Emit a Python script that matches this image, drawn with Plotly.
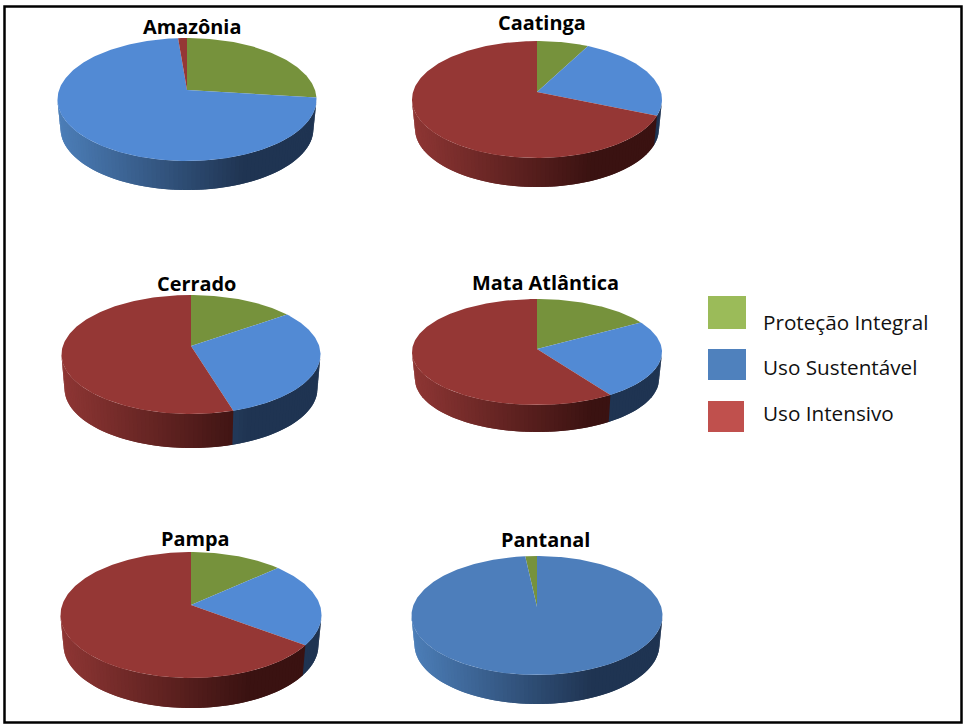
import numpy as np
import plotly.graph_objects as go

BIOMES = ["Amazônia", "Caatinga", "Cerrado", "Mata Atlântica", "Pampa", "Pantanal"]
SERIES = ["Proteção Integral", "Uso Sustentável", "Uso Intensivo"]
PROTECAO = [24.5, 6.7, 13.3, 15.6, 11.6, 1.5]
SUSTENTAVEL = [74.4, 22.8, 31.4, 24.4, 21.4, 98.5]
INTENSIVO = [1.1, 70.5, 55.3, 60.0, 67.0, 0.0]

# pie geometry in page pixels: centre x, rim top, rim bottom, half width, apex y, wall depth, rotation (deg)
GEOM = [
    (187, 38, 161, 129.5, 90, 29, 0),
    (537, 41, 158, 125, 92, 29, 0),
    (191, 295, 414, 129.5, 346, 34, 0),
    (537, 299, 405, 125, 349, 27, 0),
    (191, 552, 678, 130.5, 605, 30, 0),
    (537, 556, 675, 125.5, 607, 29, -5.4),
]
TITLE_POS = [(192, 26), (542, 22), (196, 283), (545, 282), (195, 538), (545, 539)]

TOP = ["#76923c", "#528ad4", "#953735"]
TOP_PANTANAL_BLUE = "#4d7ebb"
SIDE_LIGHT = [(118, 146, 60), (76, 126, 184), (142, 54, 52)]
SIDE_DARK = [(52, 66, 26), (31, 52, 82), (58, 18, 17)]
LEGEND_SWATCH = ["#9bbb59", "#4f81bd", "#c0504d"]
LEGEND_BOX = [(708, 296, 746, 329), (708, 349, 746, 380), (708, 401, 744, 432)]
LEGEND_TEXT_Y = [322, 367, 413]


def side_colour(i, t):
    f = min(max(t, 0) / 0.72, 1.0)
    c = [SIDE_LIGHT[i][k] + (SIDE_DARK[i][k] - SIDE_LIGHT[i][k]) * f for k in range(3)]
    return "rgb(%d,%d,%d)" % tuple(int(round(v)) for v in c)


def poly(fig, xs, ys, colour, name):
    fig.add_trace(go.Scatter(
        x=xs, y=ys, mode="lines", fill="toself", fillcolor=colour,
        line=dict(width=0), name=name,
        hoverinfo="skip", showlegend=False,
    ))


fig = go.Figure()

for b, title in enumerate(BIOMES):
    cx, top, bot, rx, ay, depth, rot = GEOM[b]
    ey = (top + bot) / 2
    ry = (bot - top) / 2
    vals = [PROTECAO[b], SUSTENTAVEL[b], INTENSIVO[b]]
    total = sum(vals)
    edges = rot + np.cumsum([0] + vals) / total * 360

    def rim(th):
        r = np.radians(th)
        return cx + rx * np.sin(r), ey - ry * np.cos(r)

    def low(th):
        r = np.radians(th)
        return cx + (rx - 3) * np.sin(r), ey + depth - ry * np.cos(r)

    # walls (front half of the rim only); each strip runs on under the next one
    for i in range(3):
        a = max(edges[i], 90)
        z = min(edges[i + 1], 270)
        if z <= a:
            continue
        ths = np.append(np.arange(a, z, 2.0), z)
        for t0, t1 in zip(ths[:-1], ths[1:]):
            ext = min(t1 + 2.0, 270)
            mid = np.linspace(t0, ext, 4)
            xa, ya = rim(mid)
            xb, yb = low(mid[::-1])
            xm, _ = rim((t0 + t1) / 2)
            t = (xm - (cx - rx)) / (2 * rx)
            poly(fig, list(xa) + list(xb) + [xa[0]], list(ya) + list(yb) + [ya[0]],
                 side_colour(i, t), SERIES[i])

    # top face
    for i in range(3):
        if vals[i] <= 0:
            continue
        ths = np.linspace(edges[i], edges[i + 1], max(int(vals[i] * 3.6), 2) + 1)
        xs, ys = rim(ths)
        colour = TOP[i]
        if b == 5 and i == 1:
            colour = TOP_PANTANAL_BLUE
        poly(fig, [cx] + list(xs) + [cx], [ay] + list(ys) + [ay], colour, SERIES[i])

annotations = [
    dict(x=x, y=y, text="<b>%s</b>" % t, showarrow=False, xref="x", yref="y",
         font=dict(family="Open Sans", size=19.9, color="#000000"))
    for t, (x, y) in zip(BIOMES, TITLE_POS)
]
annotations += [
    dict(x=761, y=y, text=t, showarrow=False, xref="x", yref="y", xanchor="left",
         font=dict(family="Open Sans", size=20.7, color="#111111"))
    for t, y in zip(SERIES, LEGEND_TEXT_Y)
]
shapes = [
    dict(type="rect", xref="x", yref="y", x0=b[0], y0=b[1], x1=b[2], y1=b[3],
         fillcolor=c, line=dict(width=0))
    for b, c in zip(LEGEND_BOX, LEGEND_SWATCH)
]
shapes.append(dict(type="rect", xref="x", yref="y", x0=4.5, y0=6.5, x1=961.5, y1=722.5,
                   line=dict(color="#000000", width=2.5), fillcolor="rgba(0,0,0,0)"))

fig.update_layout(
    width=965, height=725, margin=dict(l=0, r=0, t=0, b=0),
    paper_bgcolor="#ffffff", plot_bgcolor="#ffffff", showlegend=False,
    xaxis=dict(range=[0, 965], visible=False, fixedrange=True),
    yaxis=dict(range=[725, 0], visible=False, fixedrange=True),
    annotations=annotations, shapes=shapes,
)
fig.write_html("out.html", config={"displayModeBar": False},
               post_script="document.body.style.margin='0';document.body.style.overflow='hidden';")
